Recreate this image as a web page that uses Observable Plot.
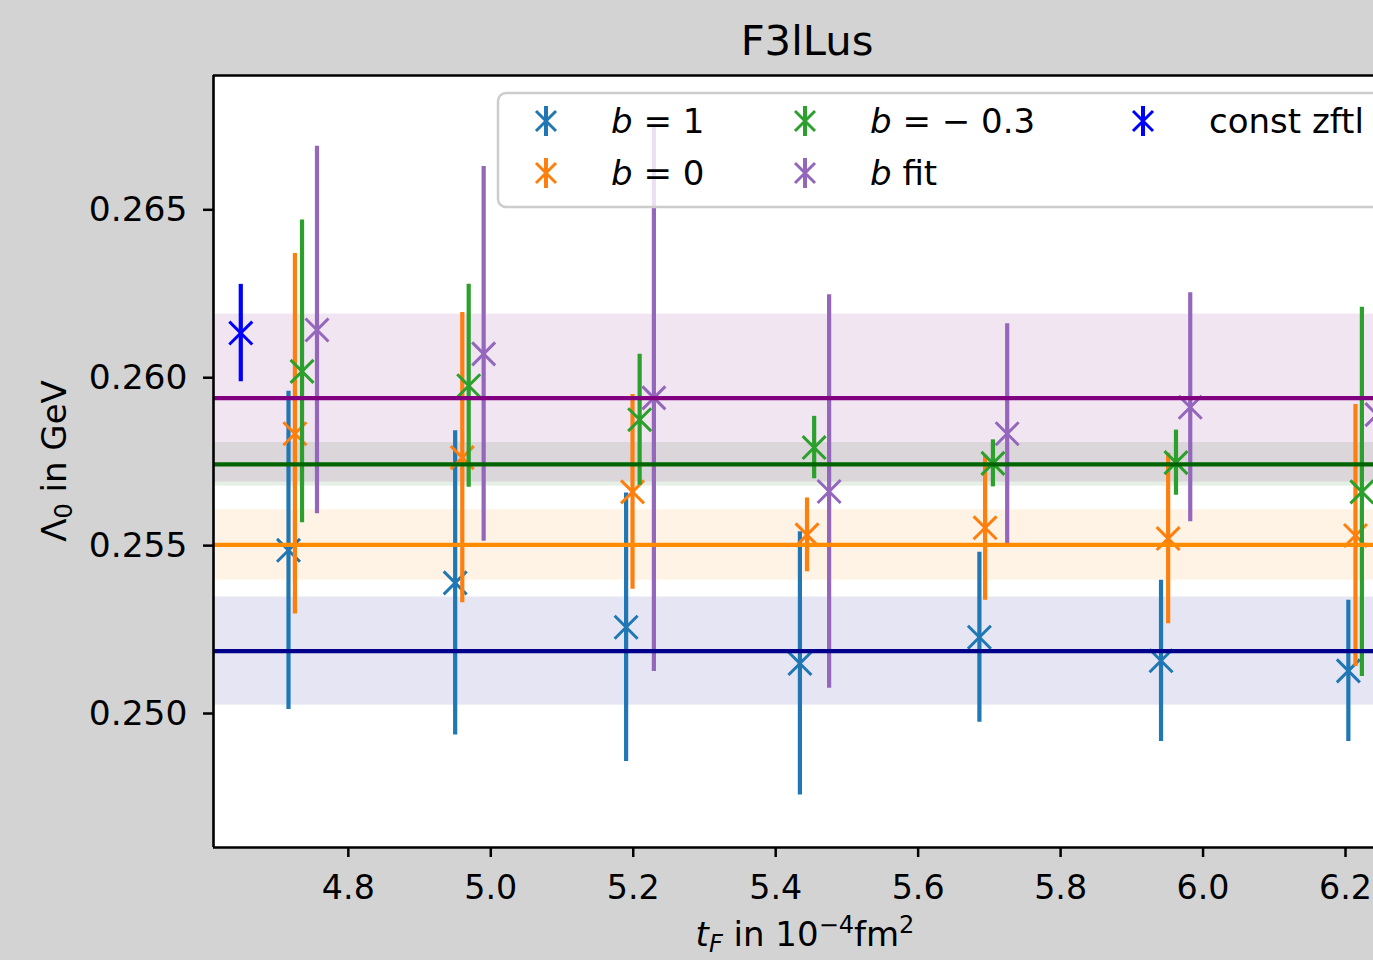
<!DOCTYPE html>
<html><head><meta charset="utf-8">
<script src="https://cdn.jsdelivr.net/npm/d3@7"></script>
<script src="https://cdn.jsdelivr.net/npm/@observablehq/plot@0.6"></script>
<style>
html,body{margin:0;padding:0;background:#d3d3d3;}
#chart{width:1373px;height:960px;overflow:hidden;}
svg{display:block;}
</style></head><body><div id="chart"></div>
<script>
// ---- data ----
const xB1   = [4.716, 4.950, 5.190, 5.434, 5.686, 5.941, 6.204];
const xB0   = [4.725, 4.960, 5.199, 5.444, 5.694, 5.951, 6.214];
const xBm03 = [4.735, 4.969, 5.209, 5.454, 5.705, 5.962, 6.223];
const xBfit = [4.756, 4.990, 5.229, 5.475, 5.725, 5.982, 6.244];

const yB1   = [0.25486, 0.25389, 0.25257, 0.25149, 0.25227, 0.25157, 0.25127];
const eB1   = [0.00474, 0.00453, 0.00400, 0.00392, 0.00253, 0.00240, 0.00210];
const yB0   = [0.25833, 0.25762, 0.25660, 0.25532, 0.25553, 0.25521, 0.25530];
const eB0   = [0.00537, 0.00432, 0.00290, 0.00110, 0.00216, 0.00254, 0.00390];
const yBm03 = [0.26019, 0.25976, 0.25875, 0.25792, 0.25745, 0.25747, 0.25660];
const eBm03 = [0.00451, 0.00302, 0.00195, 0.00093, 0.00070, 0.00097, 0.00550];
const yBfit = [0.26142, 0.26071, 0.25940, 0.25661, 0.25833, 0.25912, 0.25890];
const eBfit = [0.00547, 0.00558, 0.00815, 0.00586, 0.00328, 0.00341, 0.00350];

const xConst = [4.649];
const yConst = [0.26133];
const eConst = [0.00145];

// fitted constants (line value, band half-width)
const fitNames = ["b=1", "b=0", "b=-0.3", "b fit"];
const fitVals  = [0.25186, 0.25502, 0.25742, 0.259395];
const fitErrs  = [0.00161, 0.00105, 0.00065, 0.00250];
const fitColors = ["#00008b", "#ff8c00", "#006400", "#800080"];

const xTicks = [4.8, 5.0, 5.2, 5.4, 5.6, 5.8, 6.0, 6.2];
const yTicks = [0.250, 0.255, 0.260, 0.265];
const xDomain = [4.6107, 6.2393];
const yDomain = [0.24601, 0.26900];

const series = [
  {label: "b1",   color: "#1f77b4", x: xB1,   y: yB1,   e: eB1},
  {label: "b0",   color: "#ff7f0e", x: xB0,   y: yB0,   e: eB0},
  {label: "bm03", color: "#2ca02c", x: xBm03, y: yBm03, e: eBm03},
  {label: "bfit", color: "#9467bd", x: xBfit, y: yBfit, e: eBfit},
  {label: "const",color: "#0000ff", x: xConst,y: yConst,e: eConst}
].map(s => ({...s, rows: s.x.map((x, i) => ({x, y: s.y[i], e: s.e[i]}))}));

const fits = fitVals.map((v, i) => ({name: fitNames[i], v, e: fitErrs[i], color: fitColors[i]}));

const FONT = "DejaVu Sans, sans-serif";

const marks = [
  Plot.frame({fill: "white", stroke: "none"}),
  // bands
  ...fits.map(f => Plot.rect([f], {x1: xDomain[0], x2: xDomain[1], y1: d => d.v - d.e, y2: d => d.v + d.e,
      fill: f.color, fillOpacity: 0.1, clip: true})),
  // data
  ...series.flatMap(s => [
    Plot.ruleX(s.rows, {x: "x", y1: d => d.y - d.e, y2: d => d.y + d.e, stroke: s.color, strokeWidth: 4.2, clip: true}),
    Plot.dot(s.rows, {x: "x", y: "y", symbol: "times", r: 10.5, stroke: s.color, strokeWidth: 3, clip: true})
  ]),
  // fit lines
  ...fits.map(f => Plot.ruleY([f.v], {stroke: f.color, strokeWidth: 4.2, clip: true})),
  // axes
  Plot.axisX({ticks: xTicks, tickFormat: d3.format(".1f"), tickSize: 10, tickPadding: 18, fontSize: 33.3, strokeWidth: 2.5, label: null}),
  Plot.axisY({ticks: yTicks, tickFormat: d3.format(".3f"), tickSize: 10, tickPadding: 16, fontSize: 34.5, strokeWidth: 2.5, label: null}),
  // spines
  Plot.ruleX([xDomain[0]], {stroke: "black", strokeWidth: 2.6}),
  Plot.ruleY([yDomain[0], yDomain[1]], {stroke: "black", strokeWidth: 2.6})
];

const chart = Plot.plot({
  width: 1373, height: 960,
  marginLeft: 213, marginRight: 0, marginTop: 75, marginBottom: 113,
  x: {domain: xDomain},
  y: {domain: yDomain},
  style: {background: "transparent", fontFamily: FONT, color: "black", overflow: "hidden"},
  marks
});
document.getElementById("chart").appendChild(chart);

const svg = d3.select(chart);
// title
svg.append("text").attr("x", 807).attr("y", 55).attr("text-anchor", "middle")
  .attr("font-family", FONT).attr("font-size", 41.7).attr("fill", "black").text("F3lLus");

// x label
const xl = svg.append("text").attr("x", 805).attr("y", 946).attr("text-anchor", "middle")
  .attr("font-family", FONT).attr("font-size", 34).attr("fill", "black");
xl.append("tspan").attr("font-style", "italic").text("t");
xl.append("tspan").attr("font-style", "italic").attr("font-size", 24).attr("dy", 6).text("F");
xl.append("tspan").attr("dy", -6).text(" in 10");
xl.append("tspan").attr("font-size", 24).attr("dy", -13).text("\u22124");
xl.append("tspan").attr("dy", 13).text("fm");
xl.append("tspan").attr("font-size", 24).attr("dy", -13).text("2");

// y label
const yl = svg.append("text").attr("transform", "translate(66,461) rotate(-90)").attr("text-anchor", "middle")
  .attr("font-family", FONT).attr("font-size", 34).attr("fill", "black");
yl.append("tspan").text("\u039B");
yl.append("tspan").attr("font-size", 24).attr("dy", 6).text("0");
yl.append("tspan").attr("dy", -6).text(" in GeV");

// legend
const legendItems = [
  {color: "#1f77b4", parts: [["b", true], [" = 1", false]]},
  {color: "#ff7f0e", parts: [["b", true], [" = 0", false]]},
  {color: "#2ca02c", parts: [["b", true], [" = \u2212 0.3", false]]},
  {color: "#9467bd", parts: [["b", true], [" fit", false]]},
  {color: "#0000ff", parts: [["const zftl", false]]}
];
const lg = svg.append("g");
lg.append("rect").attr("x", 498).attr("y", 93).attr("width", 920).attr("height", 114).attr("rx", 8)
  .attr("fill", "white").attr("fill-opacity", 0.8).attr("stroke", "#cccccc").attr("stroke-width", 2.5);
const colX = [546, 805, 1143];
const textX = [611, 870, 1209];
const rowY = [121, 173];
legendItems.forEach((it, i) => {
  const c = Math.floor(i / 2), r = i % 2;
  const mx = colX[c], my = rowY[r];
  lg.append("line").attr("x1", mx).attr("x2", mx).attr("y1", my - 15).attr("y2", my + 15)
    .attr("stroke", it.color).attr("stroke-width", 4);
  lg.append("path").attr("d", `M${mx-10},${my-10}L${mx+10},${my+10}M${mx-10},${my+10}L${mx+10},${my-10}`)
    .attr("stroke", it.color).attr("stroke-width", 3).attr("fill", "none");
  const t = lg.append("text").attr("x", textX[c]).attr("y", my + 12).attr("font-family", FONT)
    .attr("font-size", 34).attr("fill", "black").attr("text-anchor", "start");
  it.parts.forEach(([s, ital]) => t.append("tspan").attr("font-style", ital ? "italic" : "normal").text(s));
});
</script></body></html>
